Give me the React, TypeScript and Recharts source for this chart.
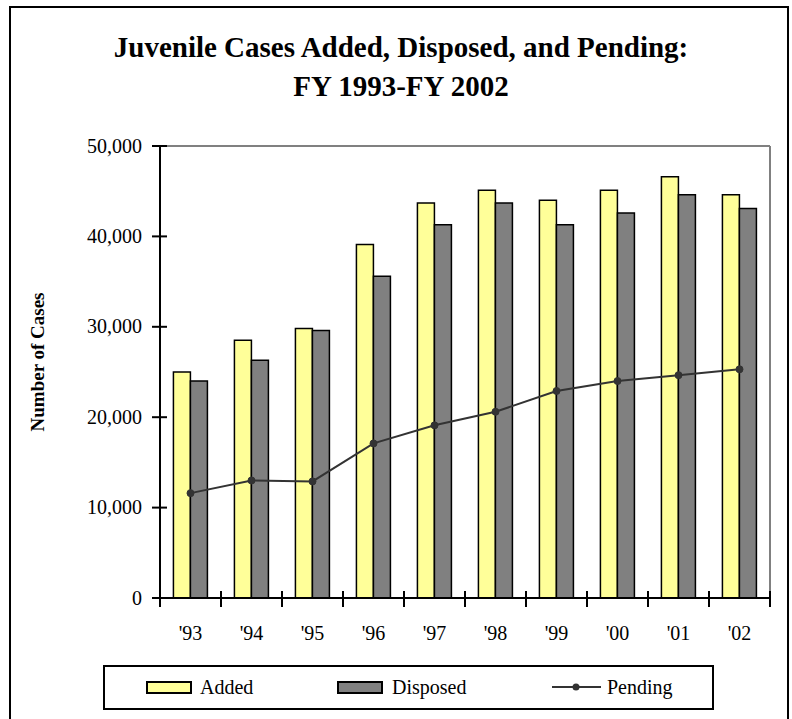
import { ComposedChart, Bar, Line, XAxis, YAxis, ReferenceLine } from "recharts";

const YEARS = ["'93", "'94", "'95", "'96", "'97", "'98", "'99", "'00", "'01", "'02"];
const ADDED = [25000, 28500, 29800, 39100, 43700, 45100, 44000, 45100, 46600, 44600];
const DISPOSED = [24000, 26300, 29600, 35600, 41300, 43700, 41300, 42600, 44600, 43100];
const PENDING = [11600, 13000, 12900, 17100, 19100, 20600, 22900, 24000, 24650, 25300];
const Y_TICKS = [0, 10000, 20000, 30000, 40000, 50000];
const Y_MAX = 50000;

const rows = YEARS.map((year, i) => ({
  year,
  added: ADDED[i],
  disposed: DISPOSED[i],
  pending: PENDING[i],
}));

const W = 792;
const H = 719;
const M = { top: 146, right: 22, bottom: 61, left: 0 };
const Y_AXIS_W = 160;
const BAND = (W - M.left - M.right - Y_AXIS_W) / YEARS.length;
const FONT = '"Liberation Serif", "Times New Roman", serif';

const fmt = (v: number) => v.toLocaleString("en-US");

// x ticks sit on the category boundaries, crossing the axis
const XTick = (p: any) => {
  const { x, y, payload, index } = p;
  const half = BAND / 2;
  return (
    <g>
      <line x1={x - half} x2={x - half} y1={y - 7} y2={y + 9} stroke="#000" strokeWidth={2} />
      {index === YEARS.length - 1 && (
        <line x1={x + half} x2={x + half} y1={y - 7} y2={y + 9} stroke="#000" strokeWidth={2} />
      )}
      <text x={x} y={y + 42} textAnchor="middle" fontFamily={FONT} fontSize={20} fill="#000">
        {payload.value}
      </text>
    </g>
  );
};

const YTick = (p: any) => {
  const { x, y, payload } = p;
  return (
    <g>
      <line x1={x - 8} x2={x + 7} y1={y} y2={y} stroke="#000" strokeWidth={2} />
      <text x={x - 18} y={y} dy="0.33em" textAnchor="end" fontFamily={FONT} fontSize={20} fill="#000">
        {fmt(payload.value)}
      </text>
    </g>
  );
};

const AxisTitle = (p: any) => {
  const { viewBox } = p;
  const cx = 37;
  const cy = viewBox.y + viewBox.height / 2 - 10;
  return (
    <text
      x={cx}
      y={cy}
      transform={`rotate(-90 ${cx} ${cy})`}
      textAnchor="middle"
      dominantBaseline="central"
      fontFamily={FONT}
      fontWeight="bold"
      fontSize={19}
      fill="#000"
    >
      Number of Cases
    </text>
  );
};

export default function App() {
  return (
    <div
      style={{
        position: "absolute",
        left: 0,
        top: 0,
        width: W,
        height: H,
        overflow: "hidden",
        background: "#fff",
        fontFamily: FONT,
      }}
    >
      {/* outer frame, runs off the bottom */}
      <div
        style={{
          position: "absolute",
          left: 9,
          top: 6,
          width: 776,
          height: 740,
          border: "2px solid #000",
        }}
      />

      {/* Title */}
      <div
        style={{
          position: "absolute",
          left: 0,
          top: 28,
          width: 802,
          textAlign: "center",
          fontWeight: "bold",
          fontSize: 29,
          lineHeight: "39px",
          color: "#000",
        }}
      >
        Juvenile Cases Added, Disposed, and Pending:
        <br />
        FY 1993-FY 2002
      </div>

      <div style={{ position: "absolute", left: 0, top: 0 }}>
        <ComposedChart
          width={W}
          height={H}
          data={rows}
          margin={M}
          barGap={0}
          barCategoryGap="22%"
        >
          {/* grey frame on top and right of the plot */}
          <ReferenceLine y={Y_MAX} stroke="#808080" strokeWidth={2} />
          <ReferenceLine
            x={YEARS[YEARS.length - 1]}
            position="end"
            stroke="#808080"
            strokeWidth={2}
          />

          <XAxis
            dataKey="year"
            interval={0}
            height={60}
            tickSize={0}
            tickMargin={0}
            tickLine={false}
            axisLine={{ stroke: "#000", strokeWidth: 2 }}
            tick={XTick}
          />
          <YAxis
            width={Y_AXIS_W}
            domain={[0, Y_MAX]}
            ticks={Y_TICKS}
            interval={0}
            tickSize={0}
            tickMargin={0}
            tickLine={false}
            axisLine={{ stroke: "#000", strokeWidth: 2 }}
            tick={YTick}
            label={<AxisTitle />}
          />

          <Bar dataKey="added" fill="#FFFF99" stroke="#000" strokeWidth={1.5} isAnimationActive={false} />
          <Bar dataKey="disposed" fill="#808080" stroke="#000" strokeWidth={1.5} isAnimationActive={false} />
          <Line
            dataKey="pending"
            stroke="#333333"
            strokeWidth={2}
            dot={{ r: 3.5, fill: "#333333", stroke: "#333333", strokeWidth: 1 }}
            isAnimationActive={false}
          />
        </ComposedChart>
      </div>

      {/* Legend */}
      <div
        style={{
          position: "absolute",
          left: 103,
          top: 665,
          width: 607,
          height: 41,
          border: "2px solid #000",
          fontSize: 20,
          color: "#000",
        }}
      >
        <div style={{ position: "absolute", left: 41, top: 14, width: 42, height: 9, background: "#FFFF99", border: "2px solid #000" }} />
        <span style={{ position: "absolute", left: 95, top: 8, lineHeight: "24px" }}>Added</span>
        <div style={{ position: "absolute", left: 232, top: 14, width: 42, height: 9, background: "#808080", border: "2px solid #000" }} />
        <span style={{ position: "absolute", left: 287, top: 8, lineHeight: "24px" }}>Disposed</span>
        <svg style={{ position: "absolute", left: 446, top: 12 }} width={52} height={16}>
          <line x1={1} x2={50} y1={8} y2={8} stroke="#333333" strokeWidth={2} />
          <circle cx={25} cy={8} r={3.5} fill="#333333" />
        </svg>
        <span style={{ position: "absolute", left: 502, top: 8, lineHeight: "24px" }}>Pending</span>
      </div>
    </div>
  );
}
